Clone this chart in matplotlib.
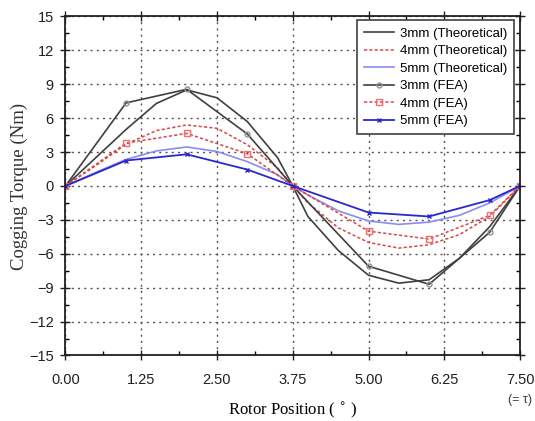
import matplotlib
matplotlib.use("Agg")
from matplotlib import pyplot as plt
from matplotlib.ticker import MultipleLocator

x_theo = [0.0, 0.5, 1.0, 1.5, 2.0, 2.5, 3.0, 3.5, 3.75, 4.0, 4.5, 5.0, 5.5, 6.0, 6.5, 7.0, 7.5]
t_3mm = [0.0, 2.5, 5.0, 7.3, 8.5, 7.8, 5.7, 2.5, 0.0, -2.7, -5.7, -7.9, -8.6, -8.3, -6.4, -3.6, 0.0]
t_4mm = [0.0, 1.8, 3.7, 4.9, 5.4, 5.1, 3.65, 1.6, 0.0, -1.5, -3.7, -5.0, -5.5, -5.2, -4.3, -2.7, 0.0]
t_5mm = [0.0, 1.2, 2.35, 3.1, 3.45, 3.05, 2.15, 1.0, 0.0, -0.8, -2.2, -3.1, -3.4, -3.2, -2.6, -1.5, 0.0]

# FEA points
x_fea = [0.0, 1.0, 2.0, 3.0, 3.75, 5.0, 6.0, 7.0, 7.5]
f_3mm = [0.0, 7.35, 8.55, 4.6, 0.0, -7.1, -8.7, -4.1, 0.0]
f_4mm = [0.0, 3.8, 4.65, 2.85, 0.0, -4.0, -4.7, -2.6, 0.0]
f_5mm = [0.0, 2.25, 2.8, 1.45, 0.0, -2.35, -2.7, -1.25, 0.0]

x_ticks = [0.0, 1.25, 2.5, 3.75, 5.0, 6.25, 7.5]
y_ticks = [-15, -12, -9, -6, -3, 0, 3, 6, 9, 12, 15]

plt.rcParams['font.family'] = ['Liberation Sans', 'DejaVu Sans']

fig = plt.figure(figsize=(5.35, 4.21), dpi=100)
ax = fig.add_axes([0.1224, 0.1556, 0.972 - 0.1224, 0.961 - 0.1556])

ax.plot(x_theo, t_3mm, color='#404040', lw=1.2, label='3mm (Theoretical)')
ax.plot(x_theo, t_4mm, color='#e84040', lw=1.1, ls=(0, (2, 1.5)), label='4mm (Theoretical)')
ax.plot(x_theo, t_5mm, color='#8c8cf0', lw=1.2, label='5mm (Theoretical)')
ax.plot(x_fea, f_3mm, color='#404040', lw=1.2, marker='o', ms=3.5, mfc='none',
        mec='#909090', label='3mm (FEA)')
ax.plot(x_fea, f_4mm, color='#e84040', lw=1.1, ls=(0, (2, 1.5)), marker='s', ms=4,
        mfc='none', mec='#f07070', label='4mm (FEA)')
ax.plot(x_fea, f_5mm, color='#2828d0', lw=1.3, marker='x', ms=3.5, mec='#2828d0',
        label='5mm (FEA)')

ax.set_xlim(0, 7.5)
ax.set_ylim(-15, 15)
ax.set_xticks(x_ticks)
ax.set_xticklabels([f'{v:.2f}' for v in x_ticks])
ax.set_yticks(y_ticks)
ax.xaxis.set_minor_locator(MultipleLocator(0.625))
ax.yaxis.set_minor_locator(MultipleLocator(1.5))
ax.tick_params(which='major', direction='inout', length=7, width=1, labelsize=10.5,
               top=True, right=True, colors='#202020')
ax.tick_params(axis='x', which='major', pad=9)
ax.tick_params(axis='y', which='major', pad=5)
ax.tick_params(which='minor', direction='in', length=3, width=1, top=True, right=True)
ax.grid(True, which='major', ls=(0, (1.5, 3)), color='#555555', lw=1)
for s in ax.spines.values():
    s.set_linewidth(1.3)
    s.set_color('#202020')

ax.set_xlabel('Rotor Position ( $^{\\circ}$ )', family='Liberation Serif', fontsize=12,
              labelpad=10)
ax.set_ylabel('Cogging Torque (Nm)', family='Liberation Serif', fontsize=13.5,
              labelpad=1, color='#303030')
ax.text(7.5, -18.4, '(= \u03c4)', ha='center', va='top', fontsize=9, color='#404040')

leg = ax.legend(loc='upper right', fontsize=9.5, handlelength=2.3, handletextpad=0.4,
                labelspacing=0.4, borderpad=0.55, fancybox=False, framealpha=1,
                edgecolor='#404040', bbox_to_anchor=(0.99, 0.993), borderaxespad=0.1)
leg.get_frame().set_linewidth(1.2)

fig.savefig('out.png', dpi=100)
